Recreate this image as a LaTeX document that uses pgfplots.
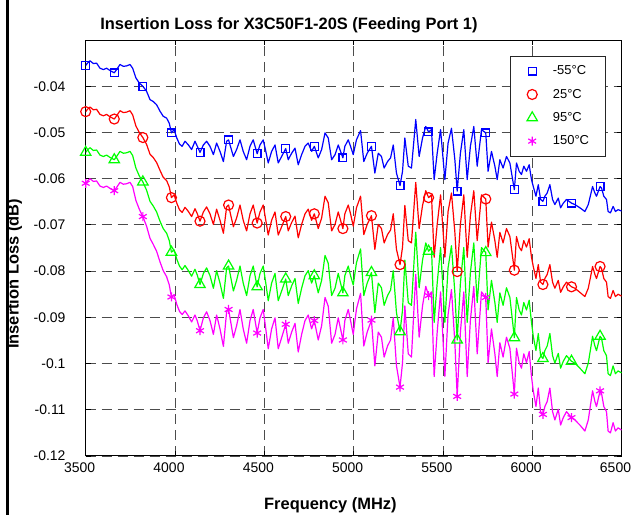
\documentclass[border=0pt]{standalone}
\usepackage{fontspec}
\setmainfont{Liberation Sans}
\usepackage{pgfplots}
\usepackage{pgfplotstable}
\pgfplotsset{compat=1.18}
\definecolor{mblue}{RGB}{0,0,255}
\definecolor{mred}{RGB}{255,0,0}
\definecolor{mgreen}{RGB}{0,255,0}
\definecolor{mmag}{RGB}{255,0,255}
\pgfplotstableread{
f b r g m
3500 -0.0355 -0.0455 -0.0543 -0.0610
3510 -0.0350 -0.0450 -0.0538 -0.0605
3524 -0.0345 -0.0445 -0.0533 -0.0600
3543 -0.0351 -0.0451 -0.0539 -0.0606
3561 -0.0350 -0.0450 -0.0538 -0.0605
3580 -0.0361 -0.0461 -0.0549 -0.0616
3599 -0.0364 -0.0464 -0.0552 -0.0619
3617 -0.0361 -0.0461 -0.0549 -0.0616
3636 -0.0366 -0.0466 -0.0554 -0.0621
3660 -0.0371 -0.0471 -0.0559 -0.0626
3673 -0.0364 -0.0464 -0.0552 -0.0619
3692 -0.0353 -0.0453 -0.0541 -0.0608
3711 -0.0357 -0.0457 -0.0545 -0.0612
3729 -0.0356 -0.0456 -0.0544 -0.0611
3748 -0.0353 -0.0453 -0.0541 -0.0608
3763 -0.0361 -0.0462 -0.0550 -0.0617
3781 -0.0382 -0.0486 -0.0577 -0.0647
3800 -0.0393 -0.0500 -0.0594 -0.0666
3820 -0.0400 -0.0511 -0.0607 -0.0682
3841 -0.0411 -0.0526 -0.0625 -0.0703
3860 -0.0429 -0.0547 -0.0649 -0.0729
3878 -0.0433 -0.0554 -0.0659 -0.0742
3897 -0.0440 -0.0565 -0.0672 -0.0757
3916 -0.0454 -0.0582 -0.0692 -0.0780
3934 -0.0465 -0.0597 -0.0708 -0.0799
3953 -0.0469 -0.0604 -0.0718 -0.0812
3968 -0.0480 -0.0618 -0.0734 -0.0830
3980 -0.0501 -0.0641 -0.0759 -0.0856
3995 -0.0494 -0.0635 -0.0754 -0.0851
4010 -0.0512 -0.0653 -0.0774 -0.0872
4025 -0.0525 -0.0667 -0.0789 -0.0887
4040 -0.0530 -0.0673 -0.0797 -0.0894
4056 -0.0519 -0.0662 -0.0788 -0.0886
4075 -0.0527 -0.0671 -0.0799 -0.0897
4093 -0.0537 -0.0682 -0.0811 -0.0910
4112 -0.0519 -0.0665 -0.0796 -0.0895
4125 -0.0530 -0.0676 -0.0809 -0.0908
4140 -0.0543 -0.0692 -0.0829 -0.0929
4159 -0.0527 -0.0672 -0.0805 -0.0901
4177 -0.0519 -0.0661 -0.0793 -0.0888
4196 -0.0530 -0.0676 -0.0810 -0.0907
4215 -0.0548 -0.0699 -0.0837 -0.0937
4233 -0.0523 -0.0666 -0.0799 -0.0895
4252 -0.0541 -0.0690 -0.0826 -0.0925
4271 -0.0563 -0.0718 -0.0859 -0.0963
4289 -0.0519 -0.0661 -0.0793 -0.0888
4300 -0.0516 -0.0657 -0.0789 -0.0883
4308 -0.0527 -0.0672 -0.0805 -0.0901
4327 -0.0552 -0.0704 -0.0843 -0.0944
4345 -0.0537 -0.0685 -0.0820 -0.0918
4364 -0.0516 -0.0657 -0.0789 -0.0883
4382 -0.0541 -0.0690 -0.0826 -0.0925
4401 -0.0559 -0.0713 -0.0853 -0.0956
4420 -0.0530 -0.0676 -0.0810 -0.0907
4438 -0.0516 -0.0657 -0.0789 -0.0883
4460 -0.0546 -0.0696 -0.0834 -0.0934
4476 -0.0527 -0.0672 -0.0805 -0.0901
4494 -0.0516 -0.0657 -0.0789 -0.0883
4508 -0.0540 -0.0689 -0.0825 -0.0924
4522 -0.0566 -0.0722 -0.0864 -0.0968
4541 -0.0541 -0.0690 -0.0826 -0.0925
4560 -0.0527 -0.0672 -0.0805 -0.0901
4578 -0.0566 -0.0722 -0.0864 -0.0968
4597 -0.0552 -0.0704 -0.0843 -0.0944
4620 -0.0535 -0.0682 -0.0817 -0.0915
4634 -0.0559 -0.0713 -0.0853 -0.0956
4653 -0.0545 -0.0695 -0.0832 -0.0932
4672 -0.0534 -0.0681 -0.0816 -0.0913
4690 -0.0570 -0.0728 -0.0870 -0.0975
4709 -0.0548 -0.0699 -0.0837 -0.0937
4728 -0.0530 -0.0676 -0.0810 -0.0907
4746 -0.0523 -0.0666 -0.0799 -0.0895
4765 -0.0541 -0.0690 -0.0826 -0.0925
4780 -0.0530 -0.0676 -0.0810 -0.0907
4802 -0.0555 -0.0708 -0.0847 -0.0949
4821 -0.0537 -0.0685 -0.0820 -0.0918
4840 -0.0501 -0.0638 -0.0766 -0.0857
4858 -0.0512 -0.0652 -0.0783 -0.0876
4877 -0.0559 -0.0713 -0.0853 -0.0956
4896 -0.0548 -0.0699 -0.0837 -0.0937
4914 -0.0527 -0.0672 -0.0805 -0.0901
4940 -0.0555 -0.0708 -0.0847 -0.0949
4951 -0.0530 -0.0676 -0.0810 -0.0907
4970 -0.0516 -0.0657 -0.0789 -0.0883
4983 -0.0530 -0.0676 -0.0810 -0.0907
4998 -0.0548 -0.0703 -0.0830 -0.0937
5016 -0.0516 -0.0663 -0.0782 -0.0882
5039 -0.0496 -0.0638 -0.0752 -0.0848
5057 -0.0563 -0.0721 -0.0853 -0.0962
5076 -0.0545 -0.0699 -0.0826 -0.0932
5100 -0.0530 -0.0680 -0.0803 -0.0906
5119 -0.0588 -0.0753 -0.0890 -0.1005
5138 -0.0545 -0.0699 -0.0826 -0.0932
5156 -0.0552 -0.0708 -0.0836 -0.0943
5171 -0.0577 -0.0739 -0.0874 -0.0986
5190 -0.0563 -0.0721 -0.0853 -0.0962
5207 -0.0555 -0.0711 -0.0841 -0.0949
5222 -0.0527 -0.0676 -0.0799 -0.0901
5240 -0.0588 -0.0753 -0.0890 -0.1005
5260 -0.0615 -0.0786 -0.0931 -0.1051
5274 -0.0584 -0.0748 -0.0884 -0.0998
5287 -0.0512 -0.0658 -0.0776 -0.0875
5306 -0.0573 -0.0734 -0.0868 -0.0979
5324 -0.0577 -0.0739 -0.0874 -0.0986
5348 -0.0472 -0.0608 -0.0716 -0.0807
5367 -0.0552 -0.0708 -0.0836 -0.0943
5386 -0.0512 -0.0658 -0.0776 -0.0875
5404 -0.0487 -0.0626 -0.0739 -0.0833
5420 -0.0499 -0.0641 -0.0757 -0.0853
5436 -0.0494 -0.0635 -0.0749 -0.0845
5451 -0.0602 -0.0770 -0.0911 -0.1028
5468 -0.0545 -0.0699 -0.0826 -0.0932
5487 -0.0494 -0.0635 -0.0749 -0.0845
5511 -0.0602 -0.0770 -0.0911 -0.1028
5529 -0.0523 -0.0671 -0.0793 -0.0894
5548 -0.0491 -0.0631 -0.0745 -0.0840
5567 -0.0559 -0.0716 -0.0847 -0.0955
5580 -0.0627 -0.0801 -0.0949 -0.1071
5598 -0.0545 -0.0699 -0.0826 -0.0932
5617 -0.0494 -0.0635 -0.0749 -0.0845
5636 -0.0602 -0.0770 -0.0911 -0.1028
5654 -0.0530 -0.0680 -0.0803 -0.0906
5673 -0.0487 -0.0626 -0.0739 -0.0833
5692 -0.0573 -0.0734 -0.0868 -0.0979
5716 -0.0494 -0.0635 -0.0749 -0.0845
5740 -0.0501 -0.0644 -0.0760 -0.0857
5753 -0.0584 -0.0748 -0.0884 -0.0998
5772 -0.0541 -0.0694 -0.0820 -0.0925
5791 -0.0573 -0.0734 -0.0868 -0.0979
5804 -0.0602 -0.0770 -0.0911 -0.1028
5819 -0.0559 -0.0716 -0.0847 -0.0955
5837 -0.0577 -0.0739 -0.0874 -0.0986
5856 -0.0552 -0.0708 -0.0836 -0.0943
5875 -0.0566 -0.0725 -0.0857 -0.0967
5900 -0.0624 -0.0798 -0.0944 -0.1066
5912 -0.0566 -0.0725 -0.0857 -0.0967
5927 -0.0584 -0.0748 -0.0884 -0.0998
5940 -0.0591 -0.0756 -0.0895 -0.1010
5953 -0.0573 -0.0734 -0.0868 -0.0979
5968 -0.0584 -0.0748 -0.0884 -0.0998
5983 -0.0570 -0.0730 -0.0863 -0.0974
5996 -0.0602 -0.0770 -0.0911 -0.1028
6006 -0.0617 -0.0790 -0.0941 -0.1059
6021 -0.0638 -0.0816 -0.0972 -0.1093
6034 -0.0613 -0.0786 -0.0935 -0.1053
6047 -0.0645 -0.0824 -0.0983 -0.1104
6060 -0.0649 -0.0829 -0.0989 -0.1110
6071 -0.0638 -0.0816 -0.0972 -0.1093
6084 -0.0631 -0.0807 -0.0962 -0.1082
6099 -0.0613 -0.0786 -0.0935 -0.1053
6114 -0.0645 -0.0824 -0.0983 -0.1104
6127 -0.0656 -0.0837 -0.0999 -0.1122
6146 -0.0642 -0.0820 -0.0978 -0.1099
6159 -0.0663 -0.0846 -0.1010 -0.1133
6174 -0.0653 -0.0834 -0.0995 -0.1117
6192 -0.0645 -0.0824 -0.0983 -0.1104
6220 -0.0653 -0.0834 -0.0995 -0.1117
6239 -0.0656 -0.0837 -0.0999 -0.1122
6267 -0.0663 -0.0846 -0.1010 -0.1133
6295 -0.0671 -0.0855 -0.1022 -0.1146
6314 -0.0656 -0.0837 -0.0999 -0.1122
6327 -0.0635 -0.0812 -0.0968 -0.1088
6338 -0.0617 -0.0790 -0.0941 -0.1059
6351 -0.0631 -0.0807 -0.0962 -0.1082
6360 -0.0638 -0.0816 -0.0972 -0.1093
6380 -0.0617 -0.0790 -0.0941 -0.1059
6388 -0.0620 -0.0794 -0.0945 -0.1064
6401 -0.0638 -0.0816 -0.0972 -0.1093
6416 -0.0645 -0.0824 -0.0983 -0.1104
6425 -0.0671 -0.0855 -0.1022 -0.1146
6438 -0.0674 -0.0859 -0.1026 -0.1150
6453 -0.0660 -0.0842 -0.1005 -0.1128
6466 -0.0671 -0.0855 -0.1022 -0.1146
6481 -0.0667 -0.0850 -0.1016 -0.1139
6500 -0.0670 -0.0854 -0.1020 -0.1144
}\curves
\pgfplotstableread{
f b r g m
3500 -0.0355 -0.0455 -0.0543 -0.0610
3660 -0.0371 -0.0471 -0.0559 -0.0626
3820 -0.0400 -0.0511 -0.0607 -0.0682
3980 -0.0501 -0.0641 -0.0759 -0.0856
4140 -0.0543 -0.0692 -0.0829 -0.0929
4300 -0.0516 -0.0657 -0.0789 -0.0883
4460 -0.0546 -0.0696 -0.0834 -0.0934
4620 -0.0535 -0.0682 -0.0817 -0.0915
4780 -0.0530 -0.0676 -0.0810 -0.0907
4940 -0.0555 -0.0708 -0.0847 -0.0949
5100 -0.0530 -0.0680 -0.0803 -0.0906
5260 -0.0615 -0.0786 -0.0931 -0.1051
5420 -0.0499 -0.0641 -0.0757 -0.0853
5580 -0.0627 -0.0801 -0.0949 -0.1071
5740 -0.0501 -0.0644 -0.0760 -0.0857
5900 -0.0624 -0.0798 -0.0944 -0.1066
6060 -0.0649 -0.0829 -0.0989 -0.1110
6220 -0.0653 -0.0834 -0.0995 -0.1117
6380 -0.0617 -0.0790 -0.0941 -0.1059
}\markers
\pgfplotsset{mymk/.style={only marks, line width=1.2bp,
  legend image code/.code={\path[draw=none,fill=none] (0bp,-7bp) rectangle (30bp,7bp);
    \draw[##1] plot coordinates {(18.3bp,0bp)};}}}
\newcommand{\lt}[1]{\makebox[46.4bp][l]{#1}}
\begin{document}
\begin{tikzpicture}
\useasboundingbox (0,0) rectangle (631bp,515bp);
\begin{axis}[
  at={(85.7bp,59bp)}, anchor=south west,
  scale only axis, width=535.8bp, height=416bp,
  xmin=3500, xmax=6500, ymin=-0.12, ymax=-0.03,
  xtick={3500,4000,4500,5000,5500,6000,6500},
  xticklabels={3500,4000,4500,5000,5500,6000,6500},
  ytick={-0.12,-0.11,-0.1,-0.09,-0.08,-0.07,-0.06,-0.05,-0.04},
  yticklabels={-0.12,-0.11,-0.1,-0.09,-0.08,-0.07,-0.06,-0.05,-0.04},
  tick align=inside, major tick length=5bp,
  grid=major,
  major grid style={black!70, line width=0.8bp, dash pattern=on 10bp off 6bp},
  axis line style={line width=1bp},
  tick style={black, line width=0.8bp},
  tick label style={font=\fontsize{14}{16}\selectfont, inner sep=0pt},
  xticklabel style={yshift=-7bp, xshift=-6bp},
  yticklabel style={xshift=-20bp},
  legend cell align=left,
  legend style={at={(0.9705,0.9623)}, anchor=north east, draw=black!85,
    line width=0.8bp, fill=white, font=\fontsize{13}{15}\selectfont,
    inner xsep=4bp, inner ysep=7.8bp, row sep=8.8bp, column sep=7bp},
]
\addplot[mblue, line width=1.2bp, line join=round, forget plot] table[x=f,y=b]{\curves};
\addplot[mred, line width=1.2bp, line join=round, forget plot] table[x=f,y=r]{\curves};
\addplot[mgreen, line width=1.2bp, line join=round, forget plot] table[x=f,y=g]{\curves};
\addplot[mmag, line width=1.2bp, line join=round, forget plot] table[x=f,y=m]{\curves};
\addplot[mymk, mblue, mark=square, mark size=3.9bp] table[x=f,y=b]{\markers};
\addlegendentry{\lt{-55°C}}
\addplot[mymk, mred, mark=o, mark size=5bp] table[x=f,y=r]{\markers};
\addlegendentry{\lt{25°C}}
\addplot[mymk, mgreen, mark=triangle, mark size=6bp] table[x=f,y=g]{\markers};
\addlegendentry{\lt{95°C}}
\addplot[mymk, mmag, mark=asterisk, mark size=4.5bp] table[x=f,y=m]{\markers};
\addlegendentry{\lt{150°C}}
\end{axis}
\node[font=\bfseries\fontsize{16.5}{18}\selectfont, anchor=base] at (289bp,485bp) {Insertion Loss for X3C50F1-20S (Feeding Port 1)};
\node[font=\bfseries\fontsize{16.5}{18}\selectfont, anchor=base] at (330.4bp,5.8bp) {Frequency (MHz)};
\node[font=\bfseries\fontsize{16.5}{18}\selectfont, anchor=base, rotate=90] at (18.5bp,241bp) {Insertion Loss (dB)};
\draw[line width=3bp] (7.5bp,0) -- (7.5bp,515bp);
\end{tikzpicture}
\end{document}
